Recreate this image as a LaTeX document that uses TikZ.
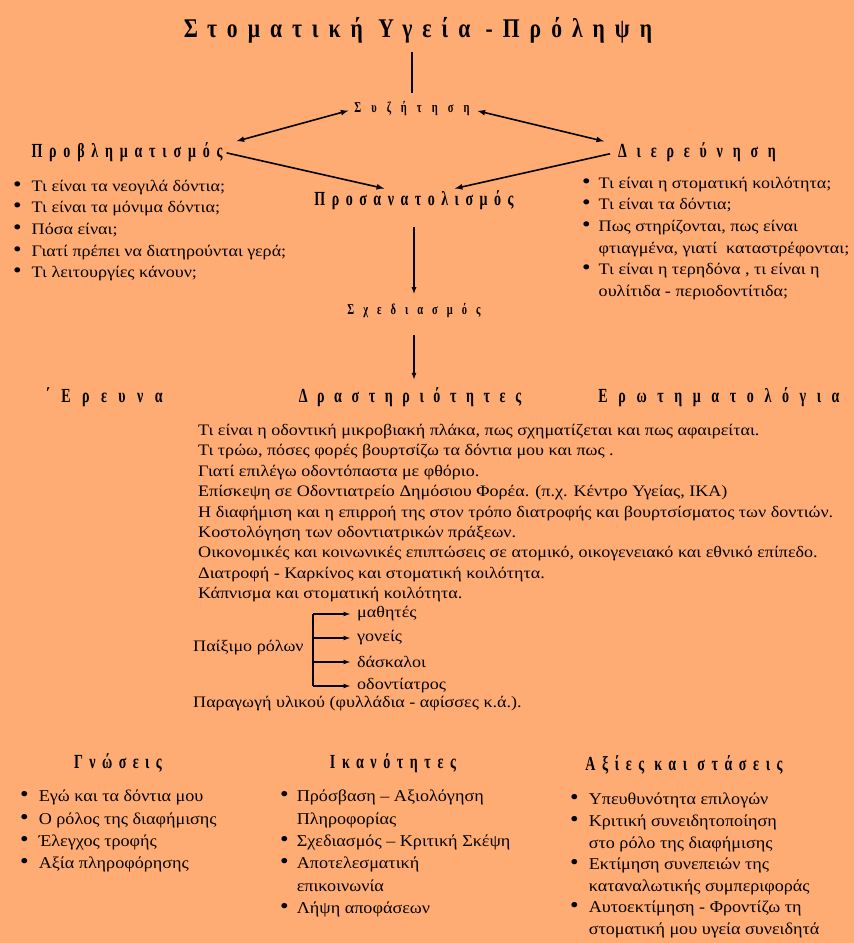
\documentclass[tikz,border=0pt]{standalone}
\usepackage{fontspec}
\setmainfont{Liberation Serif}
\newfontfamily\headfont[FakeStretch=0.7,LetterSpace=34]{Liberation Serif}
\newfontfamily\titlefont[FakeStretch=0.8,LetterSpace=37]{Liberation Serif}
\newfontfamily\wideserif[FakeStretch=1.13]{Liberation Serif}
\newfontfamily\widerserif[FakeStretch=1.1]{Liberation Serif}
\usetikzlibrary{arrows}
\definecolor{peach}{RGB}{255,171,116}

\newcommand{\bul}{\scalebox{1.35}{\textbullet}}
\newcommand{\spacing}[1]{\addfontfeature{LetterSpace=#1}}

\begin{document}
\begin{tikzpicture}[x=1pt,y=-1pt,
  title/.style={font=\titlefont\bfseries\fontsize{27}{30}\selectfont, inner sep=0pt},
  head/.style={font=\headfont\bfseries\fontsize{20}{22}\selectfont\spacing{#1}, inner sep=0pt},
  head/.default=34,
  minor/.style={font=\headfont\bfseries\fontsize{15}{17}\selectfont\spacing{#1}, inner sep=0pt},
  body/.style={font=\wideserif\fontsize{16}{21.6}\selectfont, inner sep=0pt, align=left},
  list/.style={font=\wideserif\fontsize{16}{21.6}\selectfont, inner sep=0pt, anchor=north west},
  biglist/.style={font=\widerserif\fontsize{16.5}{22.3}\selectfont, inner sep=0pt, anchor=north west},
  arr/.style={-latex, line width=1.6pt},
  twoway/.style={latex-latex, line width=1.6pt},
  thin arr/.style={-latex, line width=1.2pt}]
\useasboundingbox (0,0) rectangle (854,943);
\fill[peach] (0,0) rectangle (854,943);

%title and discussion
\node[title] (title) at (418,30) {Στοματική Υγεία -Πρόληψη};
\node[minor=67] (talk) at (412,109) {Συζήτηση};
\draw[line width=2.5pt, shorten <=9pt, shorten >=9pt] (title.south -| talk.north) -- (talk.north);

%problem and investigation
\node[head] (prob) at (127,152) {Προβληματισμός};
\node[head=49] (dier) at (697,152) {Διερεύνηση};
\node[head=32.5] (orient) at (414,200) {Προσανατολισμός};
\node[minor=60] (plan) at (414,311) {Σχεδιασμός};

\draw[twoway, shorten <=6pt, shorten >=4pt] (talk.west) -- ([xshift=10pt]prob.north east);
\draw[twoway, shorten <=8pt, shorten >=4pt] (talk.east) -- ([xshift=-10pt]dier.north west);
\draw[arr, shorten <=4pt, shorten >=8pt] (prob.east) -- ([xshift=-22pt]orient.north);
\draw[arr, shorten <=8pt, shorten >=8pt] (dier.west) -- ([xshift=33pt]orient.north);
\draw[thin arr, shorten <=17pt, shorten >=10pt] (orient.south) -- (orient.south |- plan.north);

\node[list] (problist) at (13,176) {\begin{tabular}{@{}l@{\hspace{10pt}}l@{}}
\bul & Τι είναι τα νεογιλά δόντια;\\
\bul & Τι είναι τα μόνιμα δόντια;\\
\bul & Πόσα είναι;\\
\bul & Γιατί πρέπει να διατηρούνται γερά;\\
\bul & Τι λειτουργίες κάνουν;
\end{tabular}};
\node[list] (dierlist) at (582,173) {\begin{tabular}{@{}l@{\hspace{8pt}}l@{}}
\bul & Τι είναι η στοματική κοιλότητα;\\
\bul & Τι είναι τα δόντια;\\
\bul & Πως στηρίζονται, πως είναι\\
 & φτιαγμένα, γιατί \ καταστρέφονται;\\
\bul & Τι είναι η τερηδόνα , τι είναι η\\
 & ουλίτιδα - περιοδοντίτιδα;
\end{tabular}};

%activities
\node[head=57] (research) at (104,397) {΄Ερευνα};
\node[head=48] (act) at (410,397) {Δραστηριότητες};
\node[head=53] (quest) at (719,397) {Ερωτηματολόγια};
\draw[thin arr, shorten <=17pt, shorten >=8pt] (plan.south) -- (plan.south |- act.north);

\node[body, anchor=north west] (actlist) at (198,424) {Τι είναι η οδοντική μικροβιακή πλάκα, πως σχηματίζεται και πως αφαιρείται.\\[-1.2pt]
Τι τρώω, πόσες φορές βουρτσίζω τα δόντια μου και πως .\\[-1.2pt]
Γιατί επιλέγω οδοντόπαστα με φθόριο.\\[-1.2pt]
Επίσκεψη σε Οδοντιατρείο Δημόσιου Φορέα. (π.χ. Κέντρο Υγείας, ΙΚΑ)\\[-1.2pt]
Η διαφήμιση και η επιρροή της στον τρόπο διατροφής και βουρτσίσματος των δοντιών.\\[-1.2pt]
Κοστολόγηση των οδοντιατρικών πράξεων.\\[-1.2pt]
Οικονομικές και κοινωνικές επιπτώσεις σε ατομικό, οικογενειακό και εθνικό επίπεδο.\\[-1.2pt]
Διατροφή - Καρκίνος και στοματική κοιλότητα.\\[-1.2pt]
Κάπνισμα και στοματική κοιλότητα.};

%role play
\node[body, anchor=west] (roles) at (193,648) {Παίξιμο ρόλων};
\coordinate (fork) at (313,614);
\foreach \who [count=\i] in {μαθητές, γονείς, δάσκαλοι, οδοντίατρος} {
  \node[body, anchor=west] (role\i) at (357,590+24*\i) {\who};
  \draw[-latex, line width=1.2pt, shorten >=7pt] (fork |- role\i) -- (role\i.west);
}
\draw[line width=1.2pt] (fork |- role1) -- (fork |- role4);
\node[body, anchor=west] (material) at (193,704) {Παραγωγή υλικού (φυλλάδια - αφίσσες κ.ά.).};

%outcomes
\node[head=32] (know) at (118,763) {Γνώσεις};
\node[head=33] (skill) at (393,763) {Ικανότητες};
\node[head=33] (value) at (684,765) {Αξίες και στάσεις};

\node[biglist] (knowlist) at (20,786) {\begin{tabular}{@{}l@{\hspace{10pt}}l@{}}
\bul & Εγώ και τα δόντια μου\\
\bul & Ο ρόλος της διαφήμισης\\
\bul & Έλεγχος τροφής\\
\bul & Αξία πληροφόρησης
\end{tabular}};
\node[biglist] (skilllist) at (280,786) {\begin{tabular}{@{}l@{\hspace{8pt}}l@{}}
\bul & Πρόσβαση – Αξιολόγηση\\
 & Πληροφορίας\\
\bul & Σχεδιασμός – Κριτική Σκέψη\\
\bul & Αποτελεσματική\\
 & επικοινωνία\\
\bul & Λήψη αποφάσεων
\end{tabular}};
\node[biglist] (valuelist) at (570,789) {\begin{tabular}{@{}l@{\hspace{10pt}}l@{}}
\bul & Υπευθυνότητα επιλογών\\[-0.7pt]
\bul & Κριτική συνειδητοποίηση\\[-0.7pt]
 & στο ρόλο της διαφήμισης\\[-0.7pt]
\bul & Εκτίμηση συνεπειών της\\[-0.7pt]
 & καταναλωτικής συμπεριφοράς\\[-0.7pt]
\bul & Αυτοεκτίμηση - Φροντίζω τη\\[-0.7pt]
 & στοματική μου υγεία συνειδητά
\end{tabular}};
\end{tikzpicture}
\end{document}
